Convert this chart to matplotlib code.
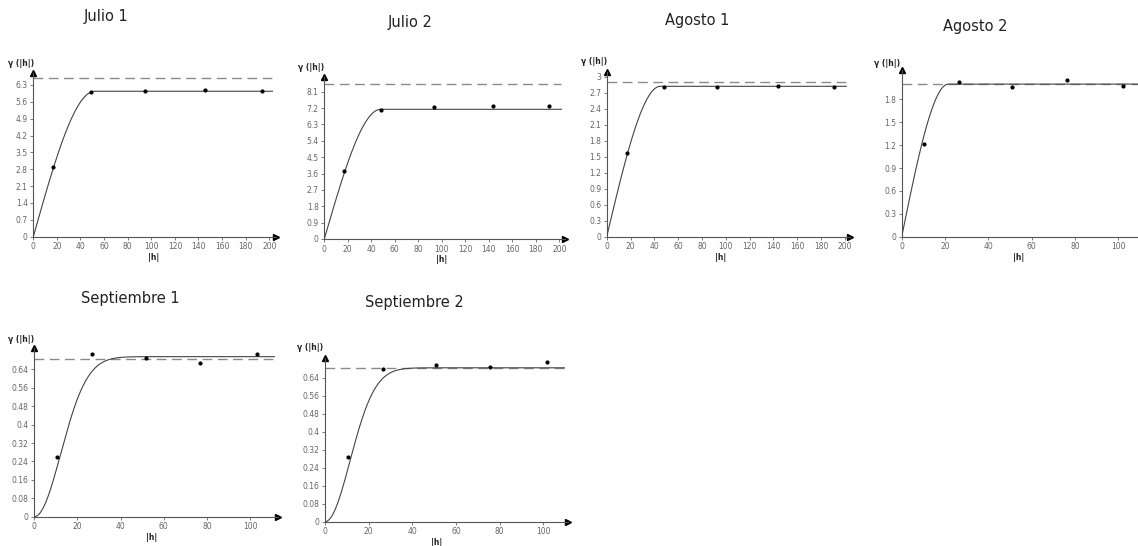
import numpy as np
import matplotlib
matplotlib.use("Agg")
import matplotlib.pyplot as plt

# ---------------- data ----------------
titles = ["Julio 1", "Julio 2", "Agosto 1", "Agosto 2", "Septiembre 1", "Septiembre 2"]

# experimental semivariogram points
julio1_h = [17, 49, 94.5, 145.5, 194]
julio1_gamma = [2.91, 6.01, 6.06, 6.09, 6.06]
julio2_h = [16.7, 48.2, 93.3, 143.8, 191]
julio2_gamma = [3.76, 7.09, 7.28, 7.31, 7.31]
agosto1_h = [16.8, 48.1, 93.1, 144, 190.8]
agosto1_gamma = [1.575, 2.80, 2.81, 2.83, 2.81]
agosto2_h = [10.3, 26.5, 51.1, 76.5, 102.3]
agosto2_gamma = [1.21, 2.03, 1.957, 2.05, 1.975]
sept1_h = [10.7, 26.9, 51.6, 77, 103.1]
sept1_gamma = [0.258, 0.707, 0.689, 0.668, 0.707]
sept2_h = [10.7, 26.4, 50.7, 75.7, 101.5]
sept2_gamma = [0.289, 0.677, 0.698, 0.687, 0.708]

# fitted model (type, sill, range) and sample variance (dashed line)
model_types = ["spherical", "spherical", "spherical", "spherical", "gaussian", "gaussian"]
model_sills = [6.04, 7.13, 2.82, 2.0, 0.695, 0.684]
model_ranges = [52, 48, 45, 21.5, 30, 28]
sample_variance = [6.58, 8.52, 2.906, 2.0, 0.685, 0.684]

# tick values
y_ticks_list = [
    [0, 0.7, 1.4, 2.1, 2.8, 3.5, 4.2, 4.9, 5.6, 6.3],
    [0, 0.9, 1.8, 2.7, 3.6, 4.5, 5.4, 6.3, 7.2, 8.1],
    [0, 0.3, 0.6, 0.9, 1.2, 1.5, 1.8, 2.1, 2.4, 2.7, 3.0],
    [0, 0.3, 0.6, 0.9, 1.2, 1.5, 1.8],
    [0, 0.08, 0.16, 0.24, 0.32, 0.4, 0.48, 0.56, 0.64],
    [0, 0.08, 0.16, 0.24, 0.32, 0.4, 0.48, 0.56, 0.64],
]
x_ticks_long = [0, 20, 40, 60, 80, 100, 120, 140, 160, 180, 200]
x_ticks_short = [0, 20, 40, 60, 80, 100]
x_ticks_list = [x_ticks_long, x_ticks_long, x_ticks_long, x_ticks_short, x_ticks_short, x_ticks_short]

points_h = [julio1_h, julio2_h, agosto1_h, agosto2_h, sept1_h, sept2_h]
points_g = [julio1_gamma, julio2_gamma, agosto1_gamma, agosto2_gamma, sept1_gamma, sept2_gamma]

# ---------------- layout (pixels) ----------------
W, H = 1138, 546
# origin x, origin y (from top), px per x unit, px per y unit, x end, y end
layout = [
    (33.3, 236.7, 1.18, 24.08, 205.7, 6.80),
    (324.3, 239.0, 1.175, 18.19, 204.9, 8.92),
    (606.7, 236.7, 1.19, 53.33, 204.4, 3.09),
    (901.7, 236.7, 2.167, 76.3, 109.5, 2.18),
    (34.3, 516.7, 2.157, 230.3, 113.0, 0.732),
    (325.0, 521.7, 2.183, 225.0, 111.3, 0.7276),
]
x_arrow = [True, True, True, False, True, True]
xlabel_h = [102, 100, 96, 54, 54.5, 51]
title_pos = [(106, 16), (410, 23), (697, 20), (975, 26), (130, 299), (414, 303)]
ylabel_pos = [(21, 63), (311, 68), (594, 62), (887, 63), (21, 339), (310, 347)]

fig = plt.figure(figsize=(W / 100, H / 100), dpi=100)
fig.patch.set_facecolor("white")


def model_curve(kind, sill, rng, h):
    if kind == "spherical":
        r = np.clip(h / rng, 0, 1)
        return sill * (1.5 * r - 0.5 * r ** 3)
    return sill * (1 - np.exp(-3 * (h / rng) ** 2))


def fmt(v):
    return f"{round(v, 2):g}"


for i in range(6):
    x0, y0, sx, sy, xend, yend = layout[i]
    wpx = xend * sx
    hpx = yend * sy
    ax = fig.add_axes([x0 / W, (H - y0) / H, wpx / W, hpx / H])
    ax.set_xlim(0, xend)
    ax.set_ylim(0, yend)
    for s in ["top", "right"]:
        ax.spines[s].set_visible(False)
    for s in ["left", "bottom"]:
        ax.spines[s].set_color("#555555")
        ax.spines[s].set_linewidth(0.8)
    ax.set_xticks(x_ticks_list[i])
    ax.set_xticklabels([fmt(v) for v in x_ticks_list[i]])
    ax.set_yticks(y_ticks_list[i])
    ax.set_yticklabels([fmt(v) for v in y_ticks_list[i]])
    ax.tick_params(labelsize=5.5, colors="#666666", length=2.5, width=0.6, pad=1.5)
    ax.set_facecolor("none")

    # arrowheads
    if x_arrow[i]:
        ax.plot([1], [0], marker=">", color="black", markersize=5,
                transform=ax.transAxes, clip_on=False)
    ax.plot([0], [1], marker="^", color="black", markersize=5,
            transform=ax.transAxes, clip_on=False)

    hmax = xend * (0.985 if x_arrow[i] else 1.0)
    ax.plot([0, hmax], [sample_variance[i]] * 2, color="#8a8a8a", lw=1.0,
            dashes=(7, 4), zorder=2)
    hh = np.linspace(0, hmax, 600)
    ax.plot(hh, model_curve(model_types[i], model_sills[i], model_ranges[i], hh),
            color="#444444", lw=0.8, zorder=3)
    ax.scatter(points_h[i], points_g[i], s=4, color="black", zorder=4, clip_on=False)

    # axis labels and titles
    xl_px = x0 + xlabel_h[i] * sx
    fig.text(xl_px / W, 1 - (y0 + 21) / H, "|h|", fontsize=5.5, fontweight="bold",
             ha="center", va="center", color="#222222")
    fig.text(ylabel_pos[i][0] / W, 1 - ylabel_pos[i][1] / H, "γ (|h|)", fontsize=5.5,
             fontweight="bold", ha="center", va="center", color="#222222")
    fig.text(title_pos[i][0] / W, 1 - title_pos[i][1] / H, titles[i], fontsize=10.5,
             ha="center", va="center", color="#222222", family="DejaVu Sans")

fig.savefig("out.png", dpi=100, facecolor="white")
